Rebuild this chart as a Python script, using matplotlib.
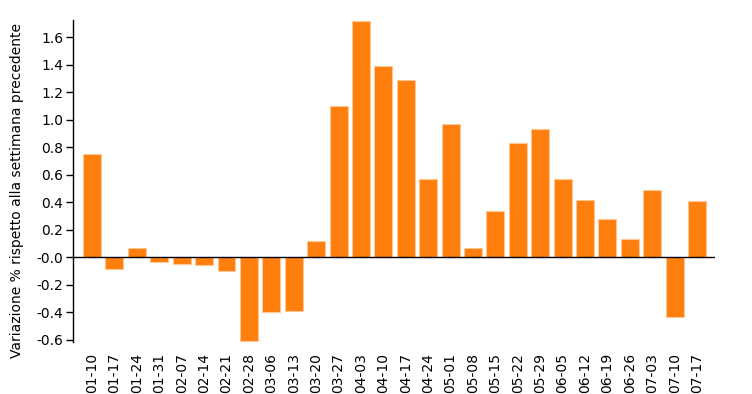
import matplotlib
matplotlib.use("Agg")
import matplotlib.pyplot as plt
import numpy as np

weeks = ["01-10", "01-17", "01-24", "01-31", "02-07", "02-14", "02-21", "02-28",
         "03-06", "03-13", "03-20", "03-27", "04-03", "04-10", "04-17", "04-24",
         "05-01", "05-08", "05-15", "05-22", "05-29", "06-05", "06-12", "06-19",
         "06-26", "07-03", "07-10", "07-17"]
values = [0.75, -0.087, 0.065, -0.035, -0.05, -0.055, -0.10, -0.61,
          -0.40, -0.39, 0.12, 1.10, 1.72, 1.39, 1.29, 0.57,
          0.97, 0.065, 0.34, 0.83, 0.93, 0.57, 0.42, 0.28,
          0.13, 0.49, -0.43, 0.41]
yticks = [-0.6, -0.4, -0.2, 0.0, 0.2, 0.4, 0.6, 0.8, 1.0, 1.2, 1.4, 1.6]
ytick_labels = ["-0.6", "-0.4", "-0.2", "-0.0", "0.2", "0.4", "0.6", "0.8",
                "1.0", "1.2", "1.4", "1.6"]
ylabel = "Variazione % rispetto alla settimana precedente"

fig = plt.figure(figsize=(7.52, 3.94), dpi=100)
ax = fig.add_axes([73/752, 1-342/394, (715-73)/752, (342-20)/394])

x = np.arange(len(weeks))
ax.bar(x, values, width=0.8, color="#ff7f0e", edgecolor="#ffc795", linewidth=0.8)
ax.axhline(0, color="black", linewidth=1)

ax.set_xlim(-0.85, len(weeks) - 0.2)
ax.set_ylim(-0.615, 1.725)
ax.set_yticks(yticks)
ax.set_yticklabels(ytick_labels, fontsize=10)
ax.set_xticks(x)
ax.set_xticklabels(weeks, rotation=90, fontsize=10)
ax.tick_params(axis="x", length=0, pad=8)
ax.tick_params(axis="y", length=5, width=1, pad=2)
for s in ["top", "right", "bottom"]:
    ax.spines[s].set_visible(False)
ax.spines["left"].set_linewidth(1)
ax.set_ylabel(ylabel, fontsize=10, va="center", ha="center")
ax.yaxis.set_label_coords(-0.088, 0.472)

fig.savefig("out.png", dpi=100)
